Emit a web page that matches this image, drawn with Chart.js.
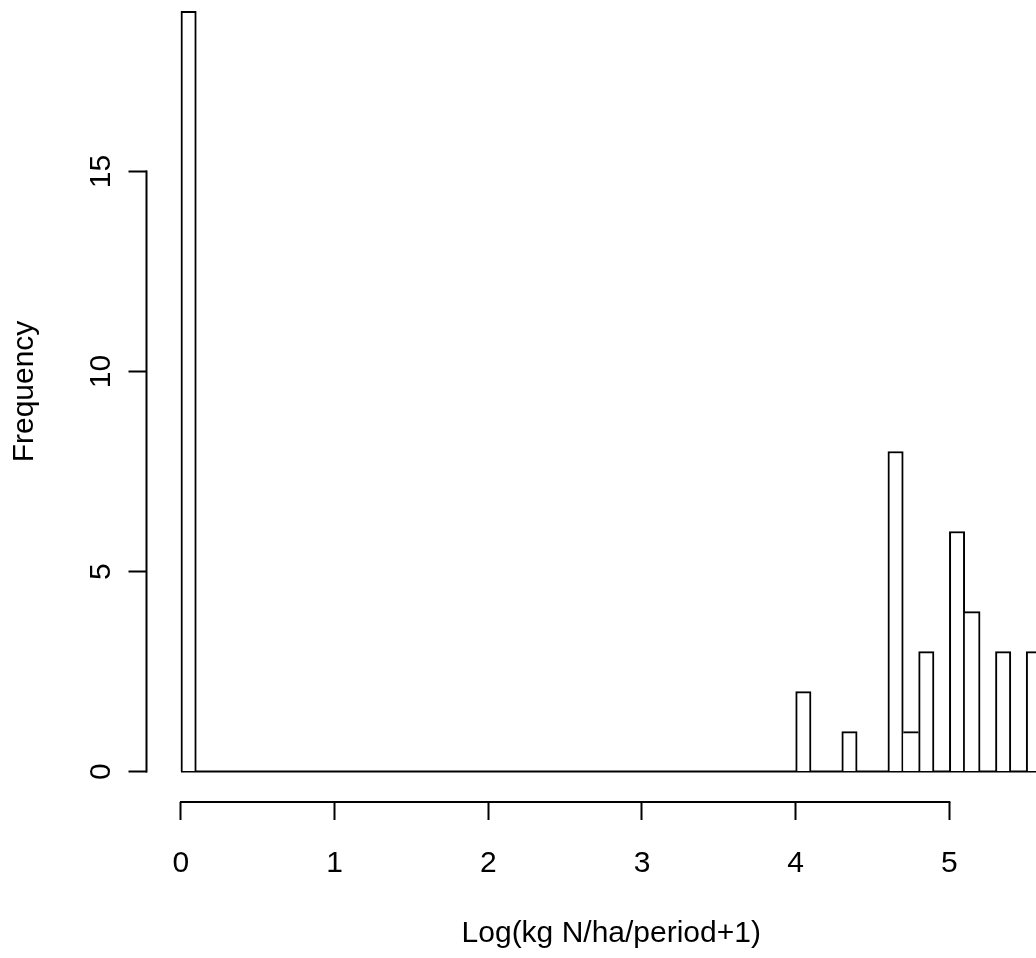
<!DOCTYPE html>
<html>
<head>
<meta charset="utf-8">
<title>Histogram</title>
<script src="https://cdn.jsdelivr.net/npm/chart.js@4/dist/chart.umd.min.js"></script>
<style>
    html, body { margin: 0; padding: 0; background: #fff; }
    #wrap { width: 1036px; height: 958px; overflow: hidden; position: relative; }
    #chart-hist { position: absolute; left: 0; top: -19px; }
</style>
</head>
<body>
<div id="wrap">
    <canvas id="chart-hist" width="1076" height="977"></canvas>
</div>
<script>
// histogram bins (lower edge) and counts, width 0.1
const binStarts = [0.0, 4.0, 4.3, 4.6, 4.7, 4.8, 5.0, 5.1, 5.3, 5.5];
const counts = [19, 2, 1, 8, 1, 3, 6, 4, 3, 3];
const binWidth = 0.1;
// first and last break of the histogram (zero bins draw as the baseline)
const breakRange = [0.0, 5.6];

const xTicks = [0, 1, 2, 3, 4, 5];
const yTicks = [0, 5, 10, 15];

const xTitle = 'Log(kg N/ha/period+1)';
const yTitle = 'Frequency';

const FONT = { family: '"Liberation Sans", Arial, Helvetica, sans-serif', size: 30 };
const LW = 2;

const bars = binStarts.map((b, i) => ({ x: b + binWidth / 2, y: counts[i] }));
const baseline = breakRange.map(v => ({ x: v, y: 0 }));

function touches(a, b) {
    return a !== undefined && b !== undefined
        && Math.abs(binStarts[b] - (binStarts[a] + binWidth)) < 1e-6;
}

// a shared edge between two bars is drawn once, by the taller bar
function edgeWidths(i) {
    const left = i > 0 && touches(i - 1, i) && counts[i - 1] >= counts[i] ? 0 : LW;
    const right = i < binStarts.length - 1 && touches(i, i + 1) && counts[i + 1] > counts[i] ? 0 : LW;
    return { top: LW, left, right, bottom: 0 };
}

// R draws axis lines only between the first and last tick
const axisLines = {
    id: 'axisLines',
    afterDraw(chart) {
        const { ctx, chartArea, scales: { x, y } } = chart;
        ctx.save();
        ctx.strokeStyle = '#000';
        ctx.lineWidth = LW;
        ctx.beginPath();
        ctx.moveTo(x.getPixelForValue(xTicks[0]) - LW / 2, chartArea.bottom);
        ctx.lineTo(x.getPixelForValue(xTicks[xTicks.length - 1]) + LW / 2, chartArea.bottom);
        ctx.moveTo(chartArea.left, y.getPixelForValue(yTicks[0]) + LW / 2);
        ctx.lineTo(chartArea.left, y.getPixelForValue(yTicks[yTicks.length - 1]) - LW / 2);
        ctx.stroke();
        ctx.restore();
    },
};

const ctx = document.getElementById('chart-hist').getContext('2d');
new Chart(ctx, {
    type: 'bar',
    data: {
        datasets: [{
            data: bars,
            backgroundColor: '#fff',
            borderColor: '#000',
            borderWidth: c => edgeWidths(c.dataIndex),
            borderSkipped: 'start',
            barPercentage: 1,
            categoryPercentage: 1,
        }, {
            type: 'line',
            data: baseline,
            borderColor: '#000',
            borderWidth: LW,
            pointRadius: 0,
            fill: false,
        }],
    },
    options: {
        responsive: false,
        animation: false,
        devicePixelRatio: 1,
        layout: { padding: 0 },
        plugins: { legend: { display: false }, tooltip: { enabled: false } },
        events: [],
        scales: {
            x: {
                type: 'linear',
                offset: false,
                min: -0.224,
                max: 5.824,
                afterBuildTicks(scale) { scale.ticks = xTicks.map(v => ({ value: v })); },
                afterFit(scale) {
                    scale.height = 156;
                    scale.paddingLeft = 0;
                    scale.paddingRight = 0;
                },
                grid: {
                    offset: false,
                    drawOnChartArea: false,
                    drawTicks: true,
                    tickLength: 18,
                    tickWidth: LW,
                    tickColor: '#000',
                },
                border: { display: false },
                ticks: {
                    color: '#000',
                    font: FONT,
                    padding: 26,
                    maxRotation: 0,
                    autoSkip: false,
                },
                title: {
                    display: true,
                    text: xTitle,
                    color: '#000',
                    font: FONT,
                    padding: { top: 0, bottom: 6 },
                },
            },
            y: {
                type: 'linear',
                min: -0.76,
                max: 19.76,
                afterBuildTicks(scale) { scale.ticks = yTicks.map(v => ({ value: v })); },
                afterFit(scale) {
                    scale.width = 146.5;
                    scale.paddingTop = 0;
                    scale.paddingBottom = 0;
                },
                grid: {
                    drawOnChartArea: false,
                    drawTicks: true,
                    tickLength: 18,
                    tickWidth: LW,
                    tickColor: '#000',
                },
                border: { display: false },
                ticks: {
                    color: '#000',
                    font: FONT,
                    padding: 10,
                    minRotation: 90,
                    maxRotation: 90,
                    crossAlign: 'center',
                    autoSkip: false,
                },
                title: {
                    display: true,
                    text: yTitle,
                    color: '#000',
                    font: FONT,
                    padding: { top: 7, bottom: 0 },
                },
            },
        },
    },
    plugins: [axisLines],
});
</script>
</body>
</html>
